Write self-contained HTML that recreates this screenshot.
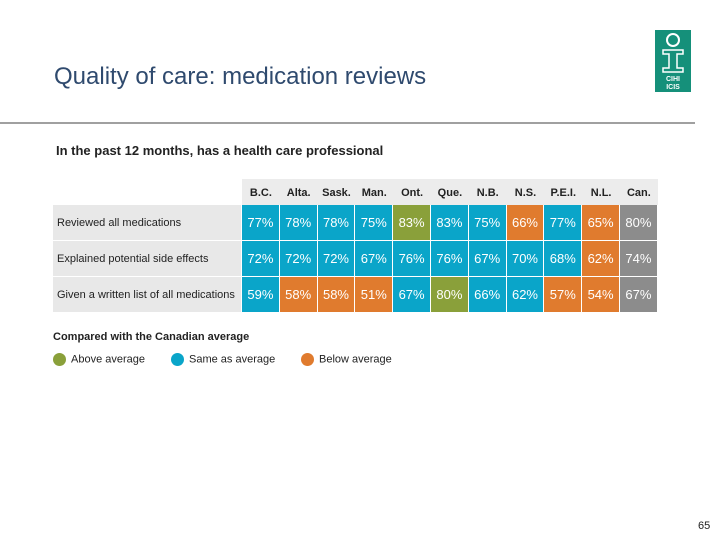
<!DOCTYPE html>
<html><head><meta charset="utf-8"><style>
body{margin:0;width:720px;height:540px;background:#fff;font-family:"Liberation Sans",sans-serif;position:relative;overflow:hidden}
.a{position:absolute}
</style></head><body>
<div class="a" style="left:54px;top:63px;font-size:24px;color:#2f4a6e">Quality of care: medication reviews</div>
<div class="a" style="left:0;top:122px;width:695px;height:2px;background:#a0a0a0"></div>
<div class="a" style="left:655px;top:30px;width:36px;height:62px;background:#15907a">
<svg width="36" height="62"><circle cx="18" cy="10" r="6" fill="none" stroke="#fff" stroke-width="2"/><path d="M8 20h20v4h-6v14h6v4H8v-4h6V24H8z" fill="none" stroke="#fff" stroke-width="1.5"/>
<text x="18" y="51" font-size="7" fill="#fff" text-anchor="middle" font-family="Liberation Sans" font-weight="bold">CIHI</text><text x="18" y="59" font-size="7" fill="#fff" text-anchor="middle" font-family="Liberation Sans" font-weight="bold">ICIS</text></svg></div>
<div class="a" style="left:56px;top:143px;font-size:13px;font-weight:bold;color:#222">In the past 12 months, has a health care professional</div>
<div id="tbl"></div>
<div class="a" style="left:53px;top:331px;font-size:11px;font-weight:bold;color:#222">Compared with the Canadian average</div>
<div class="a" style="left:53px;top:353px;font-size:11px;color:#222"><span style="display:inline-block;width:13px;height:13px;border-radius:50%;background:#8aa03a;vertical-align:middle;margin-right:5px"></span>Above average</div>
<div class="a" style="left:171px;top:353px;font-size:11px;color:#222"><span style="display:inline-block;width:13px;height:13px;border-radius:50%;background:#0aa5c9;vertical-align:middle;margin-right:5px"></span>Same as average</div>
<div class="a" style="left:301px;top:353px;font-size:11px;color:#222"><span style="display:inline-block;width:13px;height:13px;border-radius:50%;background:#e07b2e;vertical-align:middle;margin-right:5px"></span>Below average</div>
<div class="a" style="left:698px;top:520px;font-size:11px;color:#222">65</div>
<script>
const provinces=["B.C.","Alta.","Sask.","Man.","Ont.","Que.","N.B.","N.S.","P.E.I.","N.L.","Can."];
const rowLabels=["Reviewed all medications","Explained potential side effects","Given a written list of all medications"];
const values=[[77,78,78,75,83,83,75,66,77,65,80],[72,72,72,67,76,76,67,70,68,62,74],[59,58,58,51,67,80,66,62,57,54,67]];
const status=[["s","s","s","s","a","s","s","b","s","b","c"],["s","s","s","s","s","s","s","s","s","b","c"],["s","b","b","b","s","a","s","s","b","b","c"]];
const colors={s:"#0aa5c9",b:"#e07b2e",a:"#8aa03a",c:"#8c8c8c"};
const t=document.getElementById('tbl');
const x0=242,cw=37.8,y0=205,rh=36,lx=53;
function mk(css,txt){const d=document.createElement('div');d.className='a';d.style.cssText=css;if(txt!=null)d.textContent=txt;t.appendChild(d);return d;}
const hb=mk(`left:${x0}px;top:179px;width:${cw*provinces.length}px;height:26px;background:#ececec`);


provinces.forEach((p,i)=>{const d=mk(`left:${x0+i*cw}px;top:179px;width:${cw}px;height:26px;line-height:28px;text-align:center;font-size:11px;font-weight:bold;color:#222`,p);

});
rowLabels.forEach((r,j)=>{const y=y0+j*rh;
const l=mk(`left:${lx}px;top:${y}px;width:${x0-lx-1}px;height:${rh-1}px;background:#e8e8e8;line-height:${rh}px;font-size:11px;color:#222;padding-left:4px;box-sizing:border-box;white-space:nowrap`,r);


values[j].forEach((v,i)=>{const c=mk(`left:${x0+i*cw}px;top:${y}px;width:${cw-1}px;height:${rh-1}px;background:${colors[status[j][i]]};color:#fff;font-size:13px;text-align:center;line-height:${rh}px`,v+"%");

});});
</script>
</body></html>
